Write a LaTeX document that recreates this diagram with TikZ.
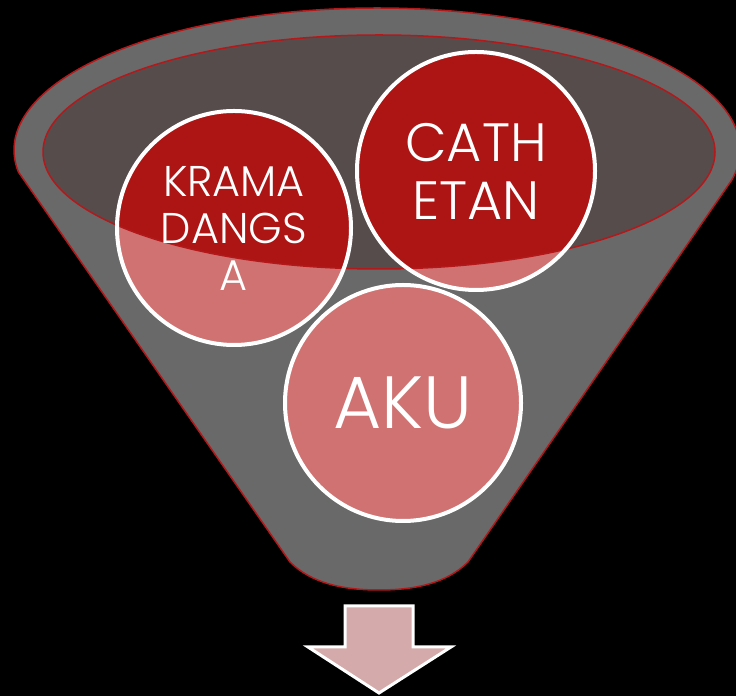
\documentclass[tikz,border=0pt]{standalone}
\usepackage{fontspec}
\setmainfont{Poppins Light}
\definecolor{funnelgray}{HTML}{696969}
\definecolor{mouthdark}{HTML}{574C4C}
\definecolor{rimred}{HTML}{B3191B}
\definecolor{ballred}{HTML}{AD1515}
\definecolor{ballpink}{HTML}{D07272}
\definecolor{arrowpink}{HTML}{D4AAAA}
\tikzset{
  funnelbody/.style={fill=funnelgray, draw=rimred, line width=1.5pt, line join=round},
  rimline/.style={draw=rimred, line width=1.5pt},
  bubble/.style={circle, draw=white, line width=4pt, text=white, align=center, inner sep=0pt},
  outarrow/.style={fill=arrowpink, draw=white, line width=3pt, line join=miter}
}
\begin{document}
\begin{tikzpicture}[x=1pt,y=1pt]
\useasboundingbox (0,0) rectangle (736,696);
\fill[black] (0,0) rectangle (736,696);

% funnel outline: straight sides, rounded spout, upper half of the rim ellipse
\coordinate (rim) at (377,546);
\coordinate (mouth) at (379,544);
\coordinate (lc) at (18.4,524);
\coordinate (rc) at (731.8,516);
\coordinate (bl) at (290,134);
\coordinate (bm) at (379,106);
\coordinate (br) at (468,134);
\draw[funnelbody] (lc) -- (bl) .. controls (312,112) and (345,106) .. (bm)
  .. controls (413,106) and (446,112) .. (br) -- (rc)
  arc[start angle=-12.2, end angle=188.9, x radius=363, y radius=142] -- cycle;

% dark opening of the funnel
\fill[mouthdark] (mouth) ellipse [x radius=336, y radius=117];

% balls: pale below the opening, deep red inside it
\fill[ballpink] (234,468) circle (117);
\fill[ballpink] (476,525) circle (119);
\fill[ballpink] (403,293) circle (118);
\begin{scope}
  \clip (mouth) ellipse [x radius=336, y radius=117];
  \fill[ballred] (234,468) circle (117);
  \fill[ballred] (476,525) circle (119);
  \fill[ballred] (403,293) circle (118);
\end{scope}
\draw[rimline] (mouth) ellipse [x radius=336, y radius=117];

\node[bubble, minimum size=234pt, font={\fontsize{43}{47}\selectfont}] (krama) at (234,468)
  {KRAMA\\DANGS\\A};
\node[bubble, minimum size=238pt, font={\fontsize{54}{58}\selectfont}] (cathetan) at (476,525)
  {CATH\\ETAN};
\node[bubble, minimum size=236pt, font={\fontsize{74}{80}\selectfont}] (aku) at (403,293)
  {AKU};

% output arrow under the spout
\draw[outarrow] (345,90) -- (413,90) -- (413,49) -- (451,49) -- (379,3)
  -- (308,49) -- (345,49) -- cycle;
\end{tikzpicture}
\end{document}
